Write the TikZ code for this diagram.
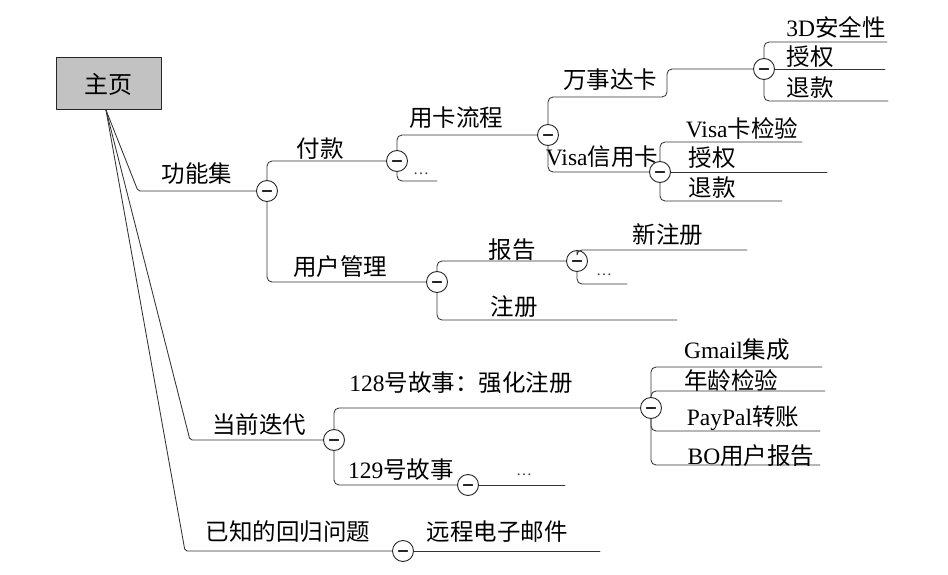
\documentclass[tikz,border=0pt]{standalone}
\usepackage{fontspec}
\setmainfont{Liberation Serif}
\newfontfamily\cjk{Noto Sans CJK SC}
\usepackage{tikz}
\usetikzlibrary{positioning}

\tikzset{
  topic/.style={draw=black!85, line width=1pt, fill=black!24,
    minimum width=105pt, minimum height=52pt, font=\cjk\fontsize{24}{27}\selectfont},
  fold/.style={circle, draw=black!85, line width=0.9pt, fill=white,
    minimum size=21pt, inner sep=0pt,
    path picture={\draw[line width=1.1pt]
      ([xshift=-4.5pt]path picture bounding box.center) --
      ([xshift=4.5pt]path picture bounding box.center);}},
  lbl/.style={inner sep=0pt, font=\cjk\fontsize{23.5}{27}\selectfont},
  dots/.style={inner sep=0pt, text=black!75, font=\fontsize{16}{18}\selectfont},
  branch/.style={draw=black!80, line width=0.85pt, rounded corners=5pt},
}

\begin{document}
\begin{tikzpicture}[x=1pt, y=-1pt, line cap=round, line join=round]
    \useasboundingbox (0,0) rectangle (948,575);

    % root
    \node[topic] (home) at (108.5,84) {主页};
    \coordinate (root) at (106,110);

    % fold markers
    \node[fold] (cF) at (267,191) {};
    \node[fold] (cP) at (397,161) {};
    \node[fold] (cK) at (548,135) {};
    \node[fold] (cM) at (764,69)  {};
    \node[fold] (cV) at (660,172) {};
    \node[fold] (cU) at (437,282) {};
    \node[fold] (cR) at (577,261) {};
    \node[fold] (cI) at (334,440) {};
    \node[fold] (cS) at (651,408) {};
    \node[fold] (cT) at (468,485) {};
    \node[fold] (cB) at (403,551) {};

    % corners and free ends
    \coordinate (k1) at (138,191);
    \coordinate (k2) at (190,440);
    \coordinate (k3) at (185,551);
    \coordinate (pE) at (437,181);
    \coordinate (mA) at (667,97);
    \coordinate (m1) at (887,42);
    \coordinate (m2) at (885,69);
    \coordinate (m3) at (888,101);
    \coordinate (v1) at (802,142);
    \coordinate (v2) at (827,172);
    \coordinate (v3) at (782,201);
    \coordinate (uE) at (677,320);
    \coordinate (r1) at (747,250);
    \coordinate (r2) at (627,284);
    \coordinate (tE) at (565,485);
    \coordinate (s1) at (822,367);
    \coordinate (s2) at (825,391);
    \coordinate (s3) at (820,431);
    \coordinate (s4) at (820,465);
    \coordinate (bE) at (600,551);

    % main branches
    \draw[branch, rounded corners=2pt] (root) -- (k1) -- (cF.west);
    \draw[branch, rounded corners=2pt] (root) -- (k2) -- (cI.west);
    \draw[branch, rounded corners=2pt] (root) -- (k3) -- (cB.west);

    % feature set
    \draw[branch] (cF.north) |- (cP.west);
    \draw[branch] (cF.south) |- (cU.west);
    \draw[branch] (cP.north) |- (cK.west);
    \draw[branch] (cP.south) |- (pE);
    \draw[branch] (cK.north) |- (mA) |- (cM.west);
    \draw[branch] (cK.south) |- (cV.west);
    \draw[branch] (cM.north) |- (m1);
    \draw[branch] (cM.east) -- (m2);
    \draw[branch] (cM.south) |- (m3);
    \draw[branch] (cV.north) |- (v1);
    \draw[branch] (cV.east) -- (v2);
    \draw[branch] (cV.south) |- (v3);
    \draw[branch] (cU.north) |- (cR.west);
    \draw[branch] (cU.south) |- (uE);
    \draw[branch] (cR.north) |- (r1);
    \draw[branch] (cR.south) |- (r2);

    % current iteration
    \draw[branch] (cI.north) |- (cS.west);
    \draw[branch] (cI.south) |- (cT.west);
    \draw[branch] (cT.east) -- (tE);
    \draw[branch] (cS.north) |- (s1);
    \draw[branch] (cS.north) |- (s2);
    \draw[branch] (cS.south) |- (s3);
    \draw[branch] (cS.south) |- (s4);

    % regressions
    \draw[branch] (cB.east) -- (bE);

    % labels
    \node[lbl] (tF)  at (197,174) {功能集};
    \node[lbl] (tP)  at (320,149) {付款};
    \node[dots] (tPd) at (421,174) {…};
    \node[lbl] (tK)  at (456,118) {用卡流程};
    \node[lbl] (tM)  at (610,80)  {万事达卡};
    \node[lbl] (tV)  at (602,157) {{\rmfamily Visa}信用卡};
    \node[lbl] (tM1) at (836,27)  {{\rmfamily 3D}安全性};
    \node[lbl] (tM2) at (810,57)  {授权};
    \node[lbl] (tM3) at (810,88)  {退款};
    \node[lbl] (tV1) at (742,128) {{\rmfamily Visa}卡检验};
    \node[lbl] (tV2) at (712,158) {授权};
    \node[lbl] (tV3) at (712,188) {退款};
    \node[lbl] (tU)  at (340,267) {用户管理};
    \node[lbl] (tR)  at (512,250) {报告};
    \node[lbl] (tR1) at (668,235) {新注册};
    \node[dots] (tRd) at (604,275) {…};
    \node[lbl] (tU2) at (514,307) {注册};
    \node[lbl] (tI)  at (259,425) {当前迭代};
    \node[lbl] (tS)  at (461,383) {{\rmfamily 128}号故事：强化注册};
    \node[lbl] (tS1) at (737,350) {{\rmfamily Gmail}集成};
    \node[lbl] (tS2) at (731,380) {年龄检验};
    \node[lbl] (tS3) at (743,418) {{\rmfamily PayPal}转账};
    \node[lbl] (tS4) at (751,456) {{\rmfamily BO}用户报告};
    \node[lbl] (tT)  at (401,470) {{\rmfamily 129}号故事};
    \node[dots] (tTd) at (524,475) {…};
    \node[lbl] (tB)  at (288,532) {已知的回归问题};
    \node[lbl] (tB1) at (497,532) {远程电子邮件};
\end{tikzpicture}
\end{document}
